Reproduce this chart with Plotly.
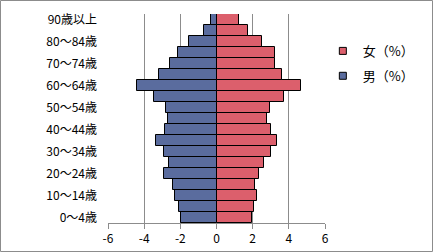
import plotly.graph_objects as go

ages = ["0～4歳", "5～9歳", "10～14歳", "15～19歳", "20～24歳", "25～29歳", "30～34歳",
        "35～39歳", "40～44歳", "45～49歳", "50～54歳", "55～59歳", "60～64歳", "65～69歳",
        "70～74歳", "75～79歳", "80～84歳", "85～89歳", "90歳以上"]
male = [-1.99, -2.08, -2.29, -2.40, -2.90, -2.62, -2.90, -3.36, -2.84, -2.68,
        -2.81, -3.46, -4.42, -3.18, -2.57, -2.12, -1.51, -0.68, -0.29]
female = [1.96, 2.09, 2.26, 2.15, 2.37, 2.64, 3.03, 3.36, 3.03, 2.81,
          2.98, 3.76, 4.70, 3.64, 3.25, 3.25, 2.53, 1.76, 1.22]
xticks = [-6, -4, -2, 0, 2, 4, 6]
ylabels = ages[::2]

font = "Noto Sans CJK JP"
fcol = "#dc5f6c"
mcol = "#5a6c9e"
fig = go.Figure()
fig.add_trace(go.Bar(y=ages, x=female, orientation="h", name="女（%）", showlegend=False,
                     marker=dict(color=fcol, line=dict(color="black", width=1))))
fig.add_trace(go.Bar(y=ages, x=male, orientation="h", name="男（%）", showlegend=False,
                     marker=dict(color=mcol, line=dict(color="black", width=1))))
# legend proxies (no data)
for i, (name, col) in enumerate([("女（%）", fcol), ("男（%）", mcol)]):
    fig.add_trace(go.Scatter(x=[None], y=[None], mode="markers", name=name,
                             legendgroup=f"g{i}",
                             marker=dict(symbol="square", size=7, color=col,
                                         line=dict(color="black", width=1))))

fig.update_layout(
    width=433, height=252,
    margin=dict(l=108, r=108, t=14, b=29, autoexpand=False),
    barmode="relative", bargap=0.0,
    paper_bgcolor="white", plot_bgcolor="white",
    font=dict(family=font, size=12, color="black"),
    showlegend=True,
    legend=dict(x=0.99, y=0.895, xanchor="left", yanchor="top",
                font=dict(size=13, family=font), itemwidth=30, tracegroupgap=5,
                traceorder="grouped", bgcolor="rgba(0,0,0,0)"),
    xaxis=dict(range=[-6, 6], tickvals=xticks, ticktext=[str(v) for v in xticks],
               showgrid=True, gridcolor="#8c8c8c", gridwidth=1,
               zeroline=False, showline=True, linecolor="#8c8c8c",
               ticks="outside", ticklen=5, tickcolor="#8c8c8c",
               tickfont=dict(size=12)),
    yaxis=dict(categoryorder="array", categoryarray=ages,
               tickvals=ylabels, ticktext=ylabels, showgrid=False,
               showline=False, zeroline=False, ticks="",
               ticklabelstandoff=10, tickfont=dict(size=12)),
    shapes=[dict(type="rect", xref="paper", yref="paper",
                 x0=-107.5/217, x1=(432.5-108)/217,
                 y0=(223-251.5)/209, y1=(223-0.5)/209,
                 line=dict(color="#8c8c8c", width=1), layer="below")],
)
fig.write_html("out.html")
